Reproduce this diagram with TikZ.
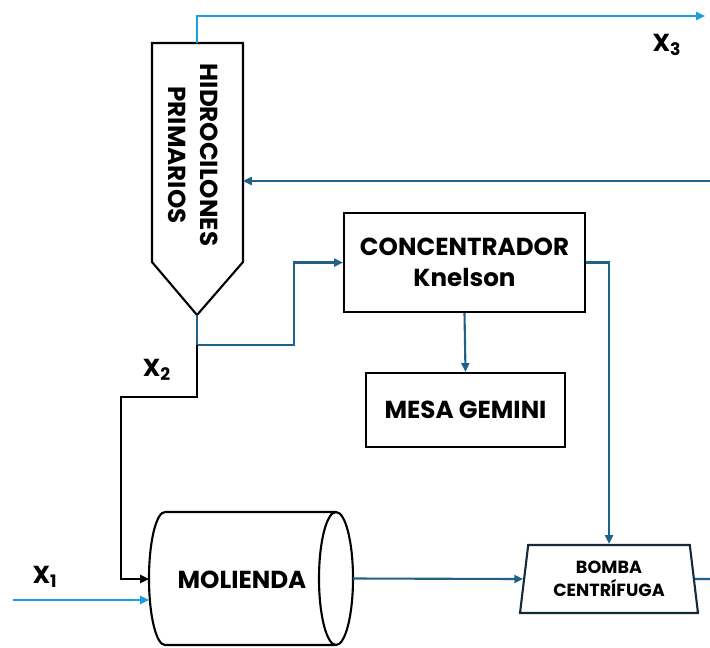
\documentclass[tikz,border=0pt]{standalone}
\usepackage{fontspec}
\setmainfont{Poppins}
\usetikzlibrary{shapes.geometric,arrows.meta}

\definecolor{celeste}{RGB}{27,160,220}
\definecolor{azul}{RGB}{30,98,135}
\definecolor{marino}{RGB}{18,42,58}

\tikzset{
	equipo/.style={draw=black, line width=1.2pt, align=center, inner sep=0pt, font=\bfseries\fontsize{14}{18}\selectfont},
	flujo/.style={azul, line width=1.2pt, -{Triangle[length=5pt,width=4.5pt]}},
	flujoC/.style={flujo, celeste},
	flujoN/.style={flujo, black},
	etiqueta/.style={font=\bfseries\fontsize{14}{16}\selectfont}
}

\begin{document}
\begin{tikzpicture}[x=0.02cm, y=-0.02cm]
	\useasboundingbox (0,0) rectangle (710,647);

	% hidrociclones
	\draw[line width=1.2pt, line join=miter]
		(152,43) coordinate (hcTL) -- (243,43) coordinate (hcTR) -- (243,262)
		-- (197,315) coordinate (hcApex) -- (152,262) -- cycle;
	\coordinate (hcTop) at (197,43);
	\node[rotate=-90, align=center, font=\bfseries\fontsize{14}{18}\selectfont] (hcTexto) at (193,155) {HIDROCILONES\\PRIMARIOS};

	% molienda (cilindro)
	\draw[line width=1.2pt]
		(165,512) -- (336,512)
		(165,512) arc[start angle=90, end angle=270, x radius=0.32cm, y radius=1.33cm] -- (336,645)
		(336,578.5) ellipse[x radius=0.34cm, y radius=1.33cm];
	\coordinate (molW) at (149,579);
	\coordinate (molE) at (353,578.5);
	\node[font=\bfseries\fontsize{14}{18}\selectfont] (mol) at (242,580) {MOLIENDA};

	% equipos
	\node[equipo, minimum width=4.82cm, minimum height=1.98cm] (conc) at (464.5,262.5) {CONCENTRADOR\\Knelson};
	\node[equipo, minimum width=3.98cm, minimum height=1.48cm] (mesa) at (465.5,410) {MESA GEMINI};
	\node[equipo, draw=marino, trapezium, trapezium left angle=77, trapezium right angle=77, trapezium stretches body,
		minimum width=3.56cm, minimum height=1.36cm, font=\bfseries\fontsize{10}{13}\selectfont] (bomba) at (609,579) {BOMBA\\CENTRÍFUGA};

	% puntos de paso
	\coordinate (x3fin) at (705,16);
	\coordinate (retorno) at (710,181);
	\coordinate (nodo) at (197,345);
	\coordinate (desvio) at (294,345);
	\coordinate (codo) at (121,397);
	\coordinate (entrada) at (13,600);
	\coordinate (salida) at (710,579);

	% flujos
	\draw[flujoC] (hcTop) |- (x3fin);
	\draw[flujo] (retorno) -- (retorno -| hcTR);
	\draw[flujo] (hcApex) |- (desvio) |- (conc.west);
	\draw[flujoN] (nodo) |- (codo) |- (molW);
	\draw[flujoC] (entrada) -- (entrada -| molW);
	\draw[flujo] (conc.south) -- (mesa.north);
	\draw[flujo] (conc.east) -| (bomba.north);
	\draw[flujo] (molE) -- (bomba.west);
	\draw[azul, line width=1.2pt] (bomba.east) -- (salida);

	% corrientes
	\node[etiqueta] (x1) at (45,577) {X\textsubscript{1}};
	\node[etiqueta] (x2) at (157,370) {X\textsubscript{2}};
	\node[etiqueta] (x3) at (667,45) {X\textsubscript{3}};
\end{tikzpicture}
\end{document}
